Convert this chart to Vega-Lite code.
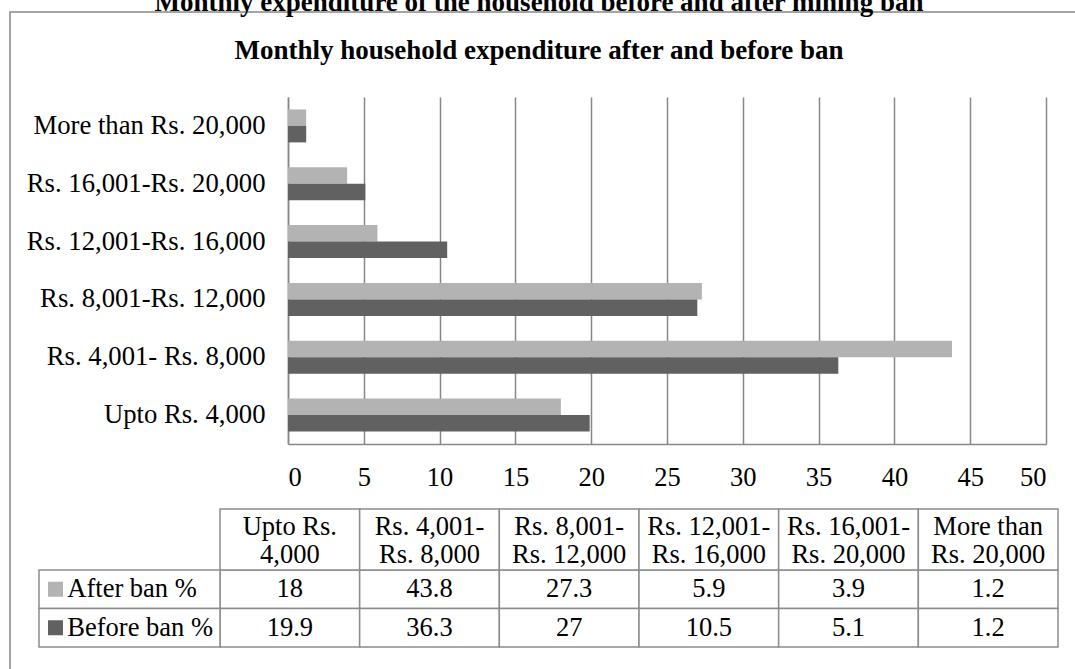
{
  "$schema": "https://vega.github.io/schema/vega-lite/v6.json",
  "description": "Monthly household expenditure before and after the mining ban: grouped horizontal bars with a data table underneath, framed by the chart border.",
  "autosize": {"type": "none"},
  "width": 1070,
  "height": 665,
  "padding": {"left": 10, "top": 12, "right": -5, "bottom": -8},
  "background": "white",
  "title": {
    "text": "Monthly expenditure of the household before and after mining ban",
    "subtitle": "Monthly household expenditure after and before ban",
    "orient": "top",
    "anchor": "middle",
    "frame": "group",
    "offset": -52.6,
    "dx": -6,
    "subtitlePadding": 21,
    "font": "Liberation Serif",
    "fontSize": 27,
    "fontWeight": "bold",
    "color": "#000000",
    "subtitleFont": "Liberation Serif",
    "subtitleFontSize": 27,
    "subtitleFontWeight": "bold",
    "subtitleColor": "#000000"
  },
  "datasets": {
    "expenditure": [
      {"bracket": "Upto Rs. 4,000", "series": "After ban %", "percent": 18},
      {"bracket": "Rs. 4,001- Rs. 8,000", "series": "After ban %", "percent": 43.8},
      {"bracket": "Rs. 8,001-Rs. 12,000", "series": "After ban %", "percent": 27.3},
      {"bracket": "Rs. 12,001-Rs. 16,000", "series": "After ban %", "percent": 5.9},
      {"bracket": "Rs. 16,001-Rs. 20,000", "series": "After ban %", "percent": 3.9},
      {"bracket": "More than Rs. 20,000", "series": "After ban %", "percent": 1.2},
      {"bracket": "Upto Rs. 4,000", "series": "Before ban %", "percent": 19.9},
      {"bracket": "Rs. 4,001- Rs. 8,000", "series": "Before ban %", "percent": 36.3},
      {"bracket": "Rs. 8,001-Rs. 12,000", "series": "Before ban %", "percent": 27},
      {"bracket": "Rs. 12,001-Rs. 16,000", "series": "Before ban %", "percent": 10.5},
      {"bracket": "Rs. 16,001-Rs. 20,000", "series": "Before ban %", "percent": 5.1},
      {"bracket": "More than Rs. 20,000", "series": "Before ban %", "percent": 1.2}
    ],
    "brackets": [
      {"bracket": "Upto Rs. 4,000", "heading": "Upto Rs.\n4,000"},
      {"bracket": "Rs. 4,001- Rs. 8,000", "heading": "Rs. 4,001-\nRs. 8,000"},
      {"bracket": "Rs. 8,001-Rs. 12,000", "heading": "Rs. 8,001-\nRs. 12,000"},
      {"bracket": "Rs. 12,001-Rs. 16,000", "heading": "Rs. 12,001-\nRs. 16,000"},
      {"bracket": "Rs. 16,001-Rs. 20,000", "heading": "Rs. 16,001-\nRs. 20,000"},
      {"bracket": "More than Rs. 20,000", "heading": "More than\nRs. 20,000"}
    ]
  },
  "layer": [
    {
      "data": {"name": "expenditure"},
      "mark": {"type": "bar"},
      "encoding": {
        "y": {
          "field": "bracket",
          "type": "nominal",
          "sort": ["More than Rs. 20,000", "Rs. 16,001-Rs. 20,000", "Rs. 12,001-Rs. 16,000", "Rs. 8,001-Rs. 12,000", "Rs. 4,001- Rs. 8,000", "Upto Rs. 4,000"],
          "scale": {"range": [85, 432], "paddingInner": 0.43, "paddingOuter": 0.215},
          "axis": {
            "title": null,
            "offset": -278,
            "grid": false,
            "ticks": false,
            "tickSize": 0,
            "domain": true,
            "domainColor": "#878787",
            "domainWidth": 1.5,
            "labelPadding": 23,
            "labelFont": "Liberation Serif",
            "labelFontSize": 26.7,
            "labelColor": "#000000",
            "labelLimit": 0
          }
        },
        "yOffset": {
          "field": "series",
          "type": "nominal",
          "sort": ["After ban %", "Before ban %"],
          "scale": {"paddingInner": 0, "paddingOuter": 0}
        },
        "x": {
          "field": "percent",
          "type": "quantitative",
          "scale": {"domain": [0, 50], "range": [278, 1036], "nice": false},
          "axis": {
            "title": null,
            "orient": "top",
            "offset": -432,
            "values": [0, 5, 10, 15, 20, 25, 30, 35, 40, 45, 50],
            "grid": true,
            "gridColor": "#878787",
            "gridWidth": 1.5,
            "ticks": false,
            "tickSize": 0,
            "domain": true,
            "domainColor": "#878787",
            "domainWidth": 1.5,
            "labelPadding": -20.5,
            "labelBaseline": "top",
            "labelFont": "Liberation Serif",
            "labelFontSize": 26.5,
            "labelColor": "#000000",
            "labelOverlap": false
          }
        },
        "color": {
          "field": "series",
          "type": "nominal",
          "scale": {"domain": ["After ban %", "Before ban %"], "range": ["#b3b3b3", "#616161"]},
          "legend": null
        }
      }
    },
    {
      "data": {"name": "expenditure"},
      "encoding": {
        "x": {
          "field": "bracket",
          "type": "nominal",
          "sort": ["Upto Rs. 4,000", "Rs. 4,001- Rs. 8,000", "Rs. 8,001-Rs. 12,000", "Rs. 12,001-Rs. 16,000", "Rs. 16,001-Rs. 20,000", "More than Rs. 20,000"],
          "scale": {"range": [210, 1048], "paddingInner": 0, "paddingOuter": 0},
          "axis": null
        },
        "y": {
          "field": "series",
          "type": "nominal",
          "sort": ["After ban %", "Before ban %"],
          "scale": {"range": [558, 635], "paddingInner": 0, "paddingOuter": 0},
          "axis": null
        }
      },
      "layer": [
        {"mark": {"type": "rect", "fill": "white", "stroke": "#8c8c8c", "strokeWidth": 1.5}},
        {
          "mark": {"type": "text", "font": "Liberation Serif", "fontSize": 26.5, "color": "#000000", "baseline": "middle"},
          "encoding": {"text": {"field": "percent", "type": "nominal"}}
        }
      ]
    },
    {
      "data": {"name": "brackets"},
      "encoding": {
        "x": {
          "field": "bracket",
          "type": "nominal",
          "sort": ["Upto Rs. 4,000", "Rs. 4,001- Rs. 8,000", "Rs. 8,001-Rs. 12,000", "Rs. 12,001-Rs. 16,000", "Rs. 16,001-Rs. 20,000", "More than Rs. 20,000"],
          "scale": {"range": [210, 1048], "paddingInner": 0, "paddingOuter": 0},
          "axis": null
        },
        "y": {
          "datum": "Expenditure bracket",
          "type": "nominal",
          "scale": {"range": [497, 558], "paddingInner": 0, "paddingOuter": 0},
          "axis": null
        }
      },
      "layer": [
        {"mark": {"type": "rect", "fill": "white", "stroke": "#8c8c8c", "strokeWidth": 1.5}},
        {
          "mark": {"type": "text", "font": "Liberation Serif", "fontSize": 26.5, "color": "#000000", "baseline": "middle", "lineBreak": "\n", "lineHeight": 28, "dy": -12.5},
          "encoding": {"text": {"field": "heading", "type": "nominal"}}
        }
      ]
    },
    {
      "data": {"name": "expenditure"},
      "transform": [{"filter": "datum.bracket === 'Upto Rs. 4,000'"}],
      "encoding": {
        "y": {
          "field": "series",
          "type": "nominal",
          "sort": ["After ban %", "Before ban %"],
          "scale": {"range": [558, 635], "paddingInner": 0, "paddingOuter": 0},
          "axis": null
        }
      },
      "layer": [
        {
          "mark": {"type": "rect", "fill": "white", "stroke": "#8c8c8c", "strokeWidth": 1.5},
          "encoding": {
            "x": {"datum": "Series", "type": "nominal", "scale": {"range": [29, 210], "paddingInner": 0, "paddingOuter": 0}, "axis": null}
          }
        },
        {
          "mark": {"type": "point", "shape": "square", "filled": true, "size": 225, "opacity": 1},
          "encoding": {
            "x": {"datum": "Series", "type": "nominal", "bandPosition": 0.0912, "axis": null},
            "color": {"field": "series", "type": "nominal", "legend": null}
          }
        },
        {
          "mark": {"type": "text", "align": "left", "baseline": "middle", "font": "Liberation Serif", "fontSize": 26.5, "color": "#000000"},
          "encoding": {
            "x": {"datum": "Series", "type": "nominal", "bandPosition": 0.1564, "axis": null},
            "text": {"field": "series", "type": "nominal"}
          }
        }
      ]
    }
  ],
  "resolve": {"scale": {"x": "independent", "y": "independent"}},
  "config": {
    "font": "Liberation Serif",
    "view": {"stroke": "#878787", "strokeWidth": 1.5}
  }
}
